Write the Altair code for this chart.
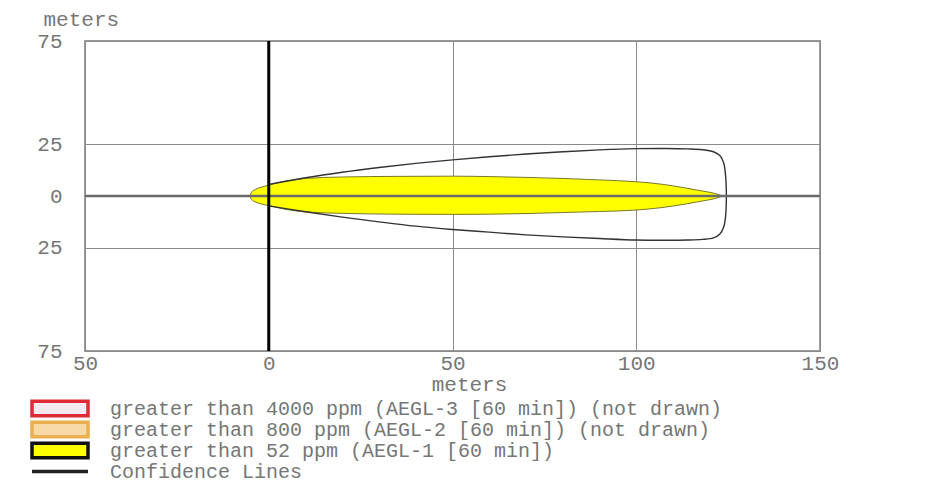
import altair as alt
import pandas as pd

# ---- data ----
# Threat zone > 52 ppm (yellow footprint), metres
zone_x = [-5.2, -4.6, -3.5, -2.0, 0, 3, 6, 10, 20, 35, 50, 60, 70, 80, 90, 100, 107, 113, 118, 121.5, 123.5]
zone_top = [0, 2.0, 3.3, 4.3, 5.2, 6.6, 7.6, 8.5, 9.2, 9.5, 9.6, 9.4, 9.0, 8.5, 7.8, 6.9, 5.7, 4.0, 2.4, 1.2, 0]
zone_bottom = [0, -1.8, -3.0, -3.9, -4.6, -5.9, -6.9, -7.7, -8.4, -8.8, -8.9, -8.8, -8.5, -8.0, -7.5, -6.8, -5.6, -4.0, -2.4, -1.2, 0]

# Confidence line (one path, top edge then bottom edge)
conf_x = [0, 10, 20, 30, 40, 50, 60, 70, 80, 90, 100, 108, 114, 118, 121, 122.8, 123.8, 124.3, 124.5,
          124.5, 124.3, 123.8, 122.7, 121, 118, 114, 108, 100, 90, 80, 70, 60, 50, 40, 30, 20, 10, 0]
conf_y = [5.6, 8.8, 11.5, 13.8, 15.8, 17.5, 19.0, 20.3, 21.4, 22.3, 22.9, 23.0, 22.8, 22.4, 21.4, 19.5, 16.0, 10.0, 3.0,
          -3.0, -10.0, -15.0, -18.5, -20.3, -21.0, -21.3, -21.4, -21.3, -20.6, -19.8, -18.8, -17.5, -16.2, -14.6, -12.5, -10.2, -7.6, -4.8]

x_ticks = [-50, 0, 50, 100, 150]
y_ticks = [-75, -25, 0, 25, 75]

legend_labels = [
    "greater than 4000 ppm (AEGL-3 [60 min]) (not drawn)",
    "greater than 800 ppm (AEGL-2 [60 min]) (not drawn)",
    "greater than 52 ppm (AEGL-1 [60 min])",
    "Confidence Lines",
]
legend_fill = ["#f3e9f1", "#f7d9a8", "#ffff00", "transparent"]
legend_stroke = ["#e02a35", "#eab050", "#111111", "#222222"]
rect_path = "M-1,-0.26L1,-0.26L1,0.26L-1,0.26Z"
line_path = "M-1,0L1,0"
legend_shape = [rect_path, rect_path, rect_path, line_path]

FONT = "Liberation Mono"
TXT = "#767676"

zone_df = pd.DataFrame({"x": zone_x, "top": zone_top, "bottom": zone_bottom})
conf_df = pd.DataFrame({"x": conf_x, "y": conf_y, "i": list(range(len(conf_x)))})
leg_df = pd.DataFrame({"label": legend_labels, "x": [float("nan")] * 4, "y": [float("nan")] * 4})

xs = alt.Scale(domain=[-50, 150], nice=False, zero=False)
ys = alt.Scale(domain=[-75, 75], nice=False, zero=False)

xaxis = alt.Axis(values=x_ticks, labelExpr="abs(datum.value)", title="meters",
                 grid=True, ticks=False, domain=False, labelFlush=False,
                 labelPadding=1, titleX=384, titleY=33, titleBaseline="middle",
                 titleAnchor="start", titleAlign="center")
yaxis = alt.Axis(values=y_ticks, labelExpr="abs(datum.value)", title="meters",
                 grid=True, ticks=False, domain=False, labelPadding=23,
                 titleAngle=0, titleX=-42, titleY=-22, titleAlign="left",
                 titleBaseline="middle", titleAnchor="start")

zone = alt.Chart(zone_df).mark_area(
    color="#ffff00", stroke="#55551a", strokeWidth=0.8, interpolate="monotone"
).encode(
    x=alt.X("x:Q", scale=xs, axis=xaxis),
    y=alt.Y("top:Q", scale=ys, axis=yaxis),
    y2="bottom:Q",
)

conf = alt.Chart(conf_df).mark_line(
    color="#333333", strokeWidth=1.4, interpolate="catmull-rom"
).encode(x="x:Q", y="y:Q", order="i:Q")

y0 = alt.Chart(pd.DataFrame({"y": [0]})).mark_rule(color="#6a6a6a", strokeWidth=2.5).encode(y="y:Q")
x0 = alt.Chart(pd.DataFrame({"x": [0]})).mark_rule(color="#000000", strokeWidth=3).encode(x="x:Q")

leg = alt.Legend(
    orient="none", legendX=-55, legendY=357, title=None, direction="vertical",
    labelFont=FONT, labelFontSize=20, labelColor=TXT, labelLimit=2000,
    symbolSize=3136, symbolStrokeWidth=3.5, clipHeight=21, rowPadding=0,
    padding=0, labelOffset=20,
)

legend_layer = alt.Chart(leg_df).mark_point(filled=True, size=3136, strokeWidth=3.5, opacity=1).encode(
    x="x:Q",
    y="y:Q",
    fill=alt.Fill("label:N", scale=alt.Scale(domain=legend_labels, range=legend_fill), legend=leg),
    stroke=alt.Stroke("label:N", scale=alt.Scale(domain=legend_labels, range=legend_stroke), legend=leg),
    shape=alt.Shape("label:N", scale=alt.Scale(domain=legend_labels, range=legend_shape), legend=leg),
)

chart = alt.layer(zone, conf, y0, x0, legend_layer).properties(
    width=735, height=310,
    autosize=alt.AutoSizeParams(type="none"),
    padding={"left": 77, "top": 33, "right": 100, "bottom": 132},
    background="white",
).configure_view(
    stroke="#9a9a9a", strokeWidth=2
).configure_axis(
    gridColor="#8a8a8a", gridWidth=1, gridOpacity=1,
    labelFont=FONT, labelFontSize=21, labelColor=TXT,
    titleFont=FONT, titleFontSize=21, titleColor=TXT, titleFontWeight="normal",
)

chart.save("out.html", embed_options={"renderer": "svg", "actions": False})
